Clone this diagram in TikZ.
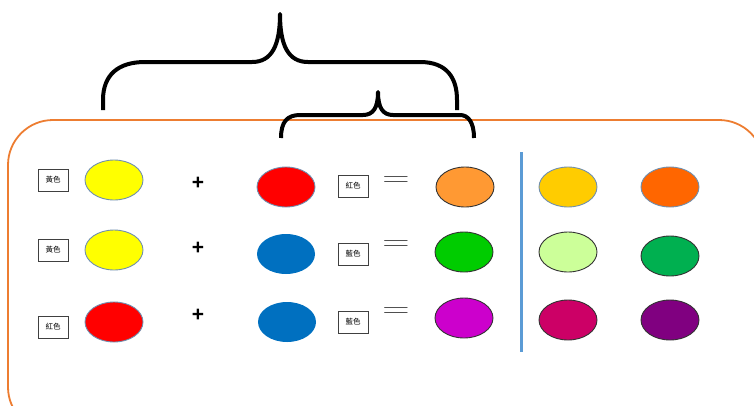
\documentclass[tikz,border=0pt]{standalone}
\usepackage{fontspec}
\usepackage{graphicx}
\newfontfamily\cjk{Noto Sans CJK TC}
\setsansfont{Liberation Sans}
\usetikzlibrary{shapes.geometric}
\definecolor{frame}{HTML}{ED7D31}
\definecolor{cyellow}{HTML}{FFFF00}
\definecolor{cred}{HTML}{FF0000}
\definecolor{corange}{HTML}{FF9933}
\definecolor{cblue}{HTML}{0070C0}
\definecolor{cgreen}{HTML}{00CC00}
\definecolor{cmagenta}{HTML}{CC00CC}
\definecolor{cgold}{HTML}{FFCC00}
\definecolor{corange2}{HTML}{FF6600}
\definecolor{clight}{HTML}{CCFF99}
\definecolor{cdgreen}{HTML}{00B050}
\definecolor{ccrimson}{HTML}{CC0066}
\definecolor{cpurple}{HTML}{800080}
\definecolor{soft}{HTML}{6F8FAF}
\definecolor{vline}{HTML}{5B9BD5}
\begin{document}
\begin{tikzpicture}[x=1pt,y=-1pt,
  dot/.style={ellipse, minimum width=58pt, minimum height=40pt, inner sep=0pt, line width=0.9pt},
  dots/.style={dot, draw=soft},
  dotd/.style={dot, draw=black!80},
  lab/.style={draw=black!75, line width=1pt, minimum width=30pt, minimum height=22pt, inner sep=0pt, font=\cjk\fontsize{7.5}{7.5}\selectfont},
  plus/.style={font=\sffamily\bfseries\fontsize{21}{21}\selectfont, inner sep=0pt},
  eq/.style={font=\fontsize{28}{28}\selectfont, text=black!70, inner sep=0pt},
  brace/.style={line width=4pt, line join=round}]
\useasboundingbox (0,0) rectangle (754,405);
% frame
\draw[frame, line width=1.8pt, rounded corners=45pt] (8,120) rectangle (764,432);
% braces
\draw[brace] (103,110) -- (103,100) .. controls (103,75) and (118,62) .. (145,62) -- (252,62) .. controls (272,62) and (280,45) .. (280,14) .. controls (280,45) and (288,62) .. (308,62) -- (420,62) .. controls (447,62) and (457,78) .. (457,100) -- (457,110);
\draw[brace] (281,138) .. controls (281,122) and (287,115) .. (300,115) -- (363,115) .. controls (373,115) and (378,108) .. (378,92) .. controls (378,108) and (383,115) .. (393,115) -- (460,115) .. controls (468,115) and (474,122) .. (474,138);
% vertical line
\draw[vline, line width=3pt] (521,152) -- (521,352);
% row 1
\node[lab] (l1) at (53,180) {黃色};
\node[dots, fill=cyellow] (a1) at (114,180) {};
\node[plus] (p1) at (198,183) {+};
\node[dots, fill=cred] (b1) at (286,187) {};
\node[lab] (m1) at (353,186) {紅色};
\node[eq] (e1) at (396,182) {\scalebox{1.35}[1]{=}};
\node[dotd, fill=corange] (c1) at (465,187) {};
\node[dots, fill=cgold] (d1) at (568,187) {};
\node[dots, fill=corange2] (f1) at (670,187) {};
% row 2
\node[lab] (l2) at (53,250) {黃色};
\node[dots, fill=cyellow] (a2) at (114,250) {};
\node[plus] (p2) at (198,248) {+};
\node[dot, fill=cblue] (b2) at (286,254) {};
\node[lab] (m2) at (353,254) {藍色};
\node[eq] (e2) at (396,246) {\scalebox{1.35}[1]{=}};
\node[dotd, fill=cgreen] (c2) at (464,252) {};
\node[dotd, fill=clight] (d2) at (568,252) {};
\node[dotd, fill=cdgreen] (f2) at (670,256) {};
% row 3
\node[lab] (l3) at (53,327) {紅色};
\node[dots, fill=cred] (a3) at (114,322) {};
\node[plus] (p3) at (198,315) {+};
\node[dot, fill=cblue] (b3) at (287,322) {};
\node[lab] (m3) at (353,322) {藍色};
\node[eq] (e3) at (396,313) {\scalebox{1.35}[1]{=}};
\node[dotd, fill=cmagenta] (c3) at (464,318) {};
\node[dotd, fill=ccrimson] (d3) at (568,320) {};
\node[dotd, fill=cpurple] (f3) at (670,320) {};
\end{tikzpicture}
\end{document}
